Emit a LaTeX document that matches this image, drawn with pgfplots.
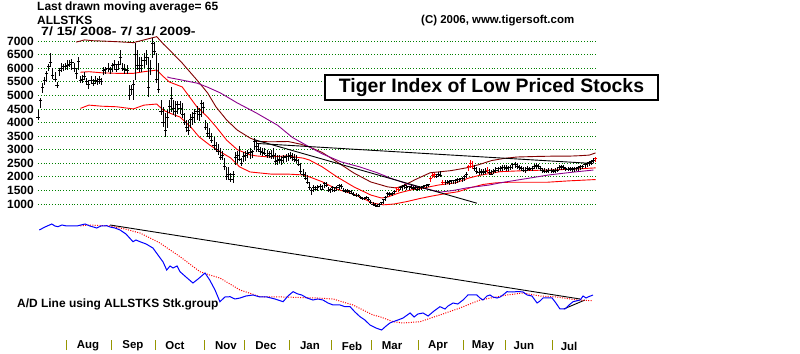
\documentclass[border=0pt]{standalone}
\usepackage{pgfplots}
\pgfplotsset{compat=1.18}
\usepackage{pgfplotstable}
\usepackage{graphicx}
\usepackage{fontspec}
\setmainfont{Liberation Sans}
\definecolor{darkred}{RGB}{128,0,0}
\definecolor{pur}{RGB}{140,0,140}
\definecolor{gridgreen}{RGB}{0,128,0}
\definecolor{sepcol}{RGB}{150,150,0}
\newcommand{\fs}[1]{\fontsize{#1}{#1}\selectfont\bfseries}

\pgfplotstableread{
i h l c
0 4450 4100 4200
1 4900 4530 4800
2 5450 5090 5300
3 5680 5380 5550
4 5900 5500 5800
5 6150 5900 6050
6 6550 6050 6200
7 6000 5600 5750
8 5850 5500 5600
9 5500 5270 5350
10 6000 5700 5900
11 6200 5850 6000
12 6150 5900 6050
13 6190 5930 6050
14 6300 5930 6100
15 6300 6040 6150
16 6350 5950 6200
17 6190 5860 6000
18 6000 5600 5800
19 6410 5930 6250
20 5700 5450 5550
21 5750 5450 5600
22 5860 5560 5700
23 5640 5380 5500
24 5560 5240 5400
25 5700 5400 5550
26 5600 5350 5450
27 5700 5400 5550
28 5650 5380 5500
29 5700 5420 5600
30 5650 5380 5500
31 6040 5750 5900
32 6040 5800 5950
33 6190 5860 6000
34 6040 5800 5950
35 6190 5860 6100
36 6300 5930 6150
37 6150 5850 5950
38 6250 5950 6150
39 6670 6120 6400
40 6200 5900 6000
41 6150 5800 5950
42 6100 5800 5900
43 5380 4830 5000
44 5380 5010 5200
45 5560 4830 5400
46 6930 5560 6500
47 6670 5930 6100
48 6420 5860 6000
49 6400 5850 6100
50 6560 6000 6300
51 6670 6120 6400
52 6420 4950 5300
53 6300 5750 6000
54 7100 6370 6900
55 6960 6480 6600
56 6550 5450 5600
57 6190 5090 5200
58 4830 4280 4400
59 4570 3840 4000
60 4350 3470 3700
61 4450 3800 4200
62 4830 4350 4600
63 5300 4400 4900
64 4830 4280 4500
65 4800 4200 4400
66 4800 4300 4650
67 4800 4300 4500
68 4700 4150 4300
69 4350 3900 4000
70 4100 3650 3800
71 4090 3550 3700
72 4300 3800 4100
73 4400 3900 4200
74 4500 4000 4350
75 4600 4100 4400
76 4550 4050 4300
77 4830 4200 4700
78 4750 4350 4550
79 4100 3720 3800
80 3970 3470 3600
81 3800 3400 3500
82 3610 3250 3350
83 3470 3030 3150
84 3300 2900 3000
85 3200 2800 2950
86 3060 2620 2700
87 2950 2620 2800
88 2700 2250 2400
89 2380 1890 2000
90 2380 1890 2100
91 2150 1800 1900
92 2200 1770 2100
93 2900 2450 2700
94 2950 2500 2800
95 3150 2600 2650
96 2700 2400 2500
97 2900 2550 2750
98 2950 2600 2800
99 3000 2700 2850
100 3050 2650 2900
101 3000 2700 2950
102 3430 3000 3300
103 3350 2900 3100
104 3250 2900 3000
105 3100 2800 2950
106 3050 2750 2900
107 3050 2800 2850
108 3000 2700 2800
109 2950 2700 2850
110 3000 2650 2750
111 3050 2650 2800
112 2880 2450 2550
113 2800 2450 2600
114 2800 2500 2650
115 2750 2450 2600
116 2800 2500 2700
117 2850 2550 2750
118 2880 2600 2750
119 2900 2650 2800
120 2880 2600 2700
121 2850 2550 2650
122 2800 2500 2600
123 2650 2400 2450
124 2500 2100 2200
125 2300 2000 2100
126 2180 1880 1950
127 2070 1750 1800
128 1810 1520 1600
129 1590 1330 1500
130 1700 1450 1600
131 1680 1500 1550
132 1700 1480 1600
133 1720 1520 1650
134 1700 1500 1550
135 1820 1600 1750
136 1800 1620 1700
137 1630 1450 1500
138 1600 1420 1550
139 1650 1450 1600
140 1620 1460 1500
141 1650 1480 1600
142 1750 1520 1700
143 1750 1550 1650
144 1600 1450 1500
145 1550 1400 1450
146 1550 1420 1500
147 1520 1380 1450
148 1500 1350 1400
149 1450 1300 1350
150 1400 1260 1300
151 1350 1250 1300
152 1300 1180 1250
153 1250 1150 1200
154 1260 1150 1200
155 1300 1180 1250
156 1250 1100 1150
157 1150 1000 1050
158 1070 950 1000
159 1050 900 950
160 1000 880 920
161 1050 890 1000
162 1070 950 1050
163 1160 1000 1150
164 1300 1100 1250
165 1440 1260 1400
166 1450 1300 1350
167 1440 1280 1400
168 1500 1350 1450
169 1630 1450 1600
170 1600 1450 1550
171 1650 1500 1600
172 1700 1520 1650
173 1720 1550 1680
174 1700 1520 1600
175 1680 1520 1650
176 1700 1550 1600
177 1650 1500 1580
178 1680 1520 1620
179 1630 1480 1550
180 1650 1500 1600
181 1680 1520 1620
182 1700 1550 1650
183 1720 1600 1700
184 1750 1620 1720
185 2000 1820 1950
186 2140 1960 2050
187 2140 1960 2100
188 2100 1950 2000
189 2180 1980 2100
190 2200 1980 2050
191 1880 1700 1800
192 1880 1700 1780
193 1900 1720 1800
194 1880 1700 1820
195 1900 1720 1850
196 1900 1750 1850
197 1920 1750 1880
198 1950 1780 1900
199 1950 1800 1900
200 2000 1820 1950
201 2050 1850 2000
202 2180 1960 2100
203 2450 2200 2400
204 2620 2330 2500
205 2600 2300 2400
206 2450 2200 2300
207 2370 2100 2200
208 2330 2050 2150
209 2300 2050 2200
210 2300 2080 2150
211 2330 2100 2200
212 2350 2150 2250
213 2300 2080 2150
214 2250 2050 2100
215 2300 2100 2200
216 2350 2150 2250
217 2380 2180 2300
218 2400 2200 2300
219 2420 2220 2350
220 2440 2250 2350
221 2420 2230 2300
222 2400 2200 2350
223 2450 2250 2350
224 2500 2300 2450
225 2550 2330 2450
226 2520 2300 2400
227 2450 2250 2350
228 2400 2200 2300
229 2380 2180 2250
230 2350 2150 2250
231 2400 2200 2300
232 2380 2200 2280
233 2400 2200 2300
234 2480 2280 2400
235 2510 2280 2420
236 2480 2280 2380
237 2400 2200 2300
238 2330 2150 2250
239 2330 2140 2200
240 2300 2140 2200
241 2330 2150 2250
242 2330 2150 2250
243 2300 2140 2200
244 2320 2150 2220
245 2350 2180 2250
246 2420 2250 2350
247 2440 2260 2380
248 2420 2250 2350
249 2380 2200 2300
250 2370 2200 2280
251 2380 2200 2300
252 2370 2180 2280
253 2350 2180 2300
254 2380 2200 2320
255 2400 2220 2350
256 2420 2250 2380
257 2450 2280 2400
258 2500 2330 2450
259 2550 2380 2500
260 2580 2400 2520
261 2620 2450 2580
262 2680 2500 2620
263 2720 2550 2680
}\prices

\pgfplotstableread{
i h l c
169 1630 1450 1600
170 1600 1450 1550
185 2000 1820 1950
186 2140 1960 2050
187 2140 1960 2100
191 1880 1700 1800
203 2450 2200 2400
204 2620 2330 2500
205 2600 2300 2400
212 2350 2150 2250
263 2720 2550 2680
}\redbars

\begin{document}
\begin{tikzpicture}
\useasboundingbox (0,0) rectangle (800bp,354bp);
% ---------------- price panel ----------------
\begin{axis}[
  at={(38bp,150bp)}, anchor=south west, scale only axis,
  width=557.56bp, height=163bp,
  xmin=0, xmax=263, ymin=1000, ymax=7000,
  clip=false, axis line style={draw=none},
  xtick=\empty, ytick={1000,1500,...,7000}, ytick pos=left,
  ymajorgrids,
  major grid style={gridgreen, line width=0.8bp, dash pattern=on 0.6bp off 2.2bp},
  major tick length=0pt,
  yticklabel style={font=\fs{12}, anchor=east, inner sep=0pt, xshift=-4bp},
  scaled y ticks=false,
  /pgf/number format/.cd, 1000 sep={}, assume math mode=true
]
% bands
\addplot[darkred, line width=0.9bp] coordinates {
(18,6960) (22,7040) (26,7010) (30,7000) (37,6975) (45,6940) (50,7040) (53,7100) (56,7160)
(59,6900) (62,6670) (68,6190) (75,5560) (80,5090) (84,4570) (89,4090) (94,3720) (100,3430)
(104,3300) (110,3290) (118,3300) (124,3200) (128,3100) (134,2900) (141,2550) (149,2140)
(157,1810) (165,1630) (169,1590) (173,1700) (178,1900) (185,2150) (195,2230) (202,2330)
(208,2450) (214,2600) (220,2680) (226,2730) (235,2750) (242,2760) (250,2760) (256,2780)
(260,2800) (263,2880)};
\addplot[red, line width=0.9bp] coordinates {
(20,5850) (24,5870) (30,5830) (37,5810) (45,5810) (50,5870) (56,5930) (59,5700) (62,5490)
(68,5310) (75,4570) (80,4200) (84,3840) (89,3350) (94,3000) (100,2810) (103,2770) (109,2730)
(117,2770) (125,2690) (128,2620) (134,2370) (141,2000) (149,1630) (157,1330) (162,1220)
(165,1260) (170,1400) (176,1520) (182,1590) (189,1700) (197,1780) (203,1950) (208,2050)
(218,2190) (230,2230) (241,2250) (252,2280) (263,2330)};
\addplot[red, line width=0.9bp] coordinates {
(20,4520) (24,4640) (30,4600) (37,4580) (45,4500) (50,4640) (56,4680) (59,4460) (62,4350)
(67,4200) (72,3840) (76,3470) (81,3170) (86,2920) (91,2690) (95,2370) (100,2180) (105,2140)
(110,2100) (118,2100) (125,2070) (128,2000) (134,1820) (141,1550) (150,1330) (158,1030)
(163,970) (168,1000) (174,1090) (180,1200) (185,1280) (192,1380) (198,1450) (204,1600)
(210,1720) (216,1780) (222,1800) (230,1800) (240,1800) (250,1850) (263,1900)};
% 65-day moving average
\addplot[pur, line width=0.9bp] coordinates {
(61,5680) (62,5650) (68,5560) (75,5450) (80,5300) (86,5090) (94,4720) (103,4350) (113,3900)
(120,3450) (128,3100) (134,2850) (143,2550) (152,2360) (160,2150) (166,1960) (175,1720)
(185,1520) (190,1440) (196,1500) (202,1590) (213,1700) (218,1780) (230,1930) (241,2070)
(252,2170) (262,2250)};
% trendlines
\addplot[black, line width=0.9bp] coordinates {(102.4,3360) (207,1030)};
\addplot[black, line width=0.9bp] coordinates {(103,3230) (262,2490)};
% daily high-low-close bars
\addplot[black, only marks, mark=-, mark size=1.6bp, mark options={line width=0.9bp},
  error bars/.cd, y dir=both, y explicit, error mark=none,
  error bar style={line width=0.9bp}]
  table[x=i, y=c, y error plus expr={\thisrow{h}-\thisrow{c}},
        y error minus expr={\thisrow{c}-\thisrow{l}}] {\prices};
\addplot[red, only marks, mark=-, mark size=1.6bp, mark options={line width=0.9bp},
  error bars/.cd, y dir=both, y explicit, error mark=none,
  error bar style={line width=0.9bp, red}]
  table[x=i, y=c, y error plus expr={\thisrow{h}-\thisrow{c}},
        y error minus expr={\thisrow{c}-\thisrow{l}}] {\redbars};
\end{axis}
% ---------------- A/D panel ----------------
\begin{axis}[
  at={(38bp,14bp)}, anchor=south west, scale only axis,
  width=557.56bp, height=116bp,
  xmin=0, xmax=263, ymin=14, ymax=130,
  clip=false, axis line style={draw=none},
  ytick=\empty,
  xtick={13.5,34.5,55.5,78.5,97.5,118.5,138.5,157.5,179.5,200.5,220.5,242.5},
  xticklabels={}, xtick pos=left, tick align=outside,
  major tick length=10bp, xtick style={sepcol, line width=1bp}
]
\addplot[black, line width=0.9bp] coordinates {(34,129) (255.7,55)};
\addplot[black, line width=0.9bp] coordinates {(248,45) (258,54)};
\addplot[red, line width=1bp, dash pattern=on 1bp off 1.4bp] coordinates {
(20,128) (24.5,129) (34,128) (41,125) (48.1,121) (57.5,111) (67,97.3) (76.4,82.3) (81,79)
(85.8,76) (95.3,64) (104.7,57.3) (115.6,57) (131.6,56) (139.2,55) (148.6,49) (158,39)
(161.3,37.3) (167.5,32.3) (172.2,31) (180.2,32.3) (189.6,39) (199,46) (208.5,54) (221.2,59)
(228.8,61) (236.8,58) (244.8,57) (254.2,54) (261.8,53.3)};
\addplot[blue, line width=1bp] coordinates {
(0.6,124) (3.3,127) (6.5,130) (8,128) (9.4,127.3) (11.3,129) (13.5,128) (16,128) (18.3,128)
(20.3,129) (22.2,130) (24.5,128) (27.7,126) (29.7,128) (32.4,128.3) (34,127) (36.3,126)
(38.7,124) (41.5,120) (44.8,112.3) (46.2,114) (48.1,112.3) (51,110) (54.2,106) (56.6,99)
(59,92) (60.7,84) (62.3,88) (63.7,86) (65.6,88) (67,82.3) (69.8,77) (73.1,71) (75.5,75)
(78.8,81) (81,74) (83.5,64) (85.8,52.3) (88.2,57) (90.6,57.3) (92.9,55) (95.3,56) (98.1,58)
(101.4,59) (104.7,57) (108,57) (111.8,55) (115.6,52.3) (117.9,58) (120.3,62.3) (122.6,60)
(124.4,59) (126.9,56) (129.7,54) (132,55) (134.4,54) (136.8,51) (139.2,49) (142.5,49)
(144.8,47.3) (147.2,47.3) (149.5,42) (151.9,37.3) (154.2,34) (156.6,29) (159.4,26)
(162.1,24) (164.2,28) (166,31) (167.5,32.3) (169.8,34) (172.2,36) (175.5,41) (177.4,37)
(179.2,40) (181.6,41) (184,38) (186.8,43) (189.6,47.3) (192,45) (193.4,48) (195.8,51)
(198,50) (200.5,54) (202.8,59) (205.2,59) (207,59) (208.5,56) (209.9,54) (211.8,58)
(213.2,59) (214.6,57) (216.5,56) (218,57) (219.3,59) (221.2,62.3) (223.6,62) (225.5,62.3)
(227.4,62.3) (228.8,62) (230.7,59) (233,58) (235.4,51) (236.8,53) (238.2,56) (240.1,56)
(242.5,56) (244.3,51) (246.2,45) (248.6,45) (250.5,49) (252.4,52.3) (255.7,54) (257.1,58)
(258.5,56) (259.4,57) (261.8,59)};
\foreach \m/\x in {Aug/23.6, Sep/44.8, Oct/64.6, Nov/88.7, Dec/107.5, Jan/128.3,
                   Feb/148.1, Mar/167, Apr/188.7, May/209.9, Jun/229.2, Jul/250.5}{
  \edef\tmp{\noexpand\node[font=\noexpand\fs{11.5}] at (axis cs:\x,8) {\m};}\tmp
}
\end{axis}
% ---------------- texts ----------------
\node[anchor=west, font=\fs{12}, inner sep=0pt] at (37bp,347bp) {Last drawn moving average= 65};
\node[anchor=west, font=\fs{12}, inner sep=0pt] at (37bp,334bp) {ALLSTKS};
\node[anchor=west, font=\fs{12}, inner sep=0pt] at (41bp,323bp) {\scalebox{1.18}[1]{7/ 15/ 2008- 7/ 31/ 2009-}};
\node[anchor=west, font=\fs{11.5}, inner sep=0pt] at (421bp,333bp) {(C) 2006, www.tigersoft.com};
\node[draw=black, fill=white, line width=1.2bp, minimum width=333bp, minimum height=25bp,
      inner sep=0pt, font=\fs{19.5}] at (491.5bp,266.5bp) {Tiger Index of Low Priced Stocks};
\node[anchor=west, font=\fs{12}, inner sep=0pt] at (17bp,50bp) {A/D Line using ALLSTKS Stk.group};
\end{tikzpicture}
\end{document}
